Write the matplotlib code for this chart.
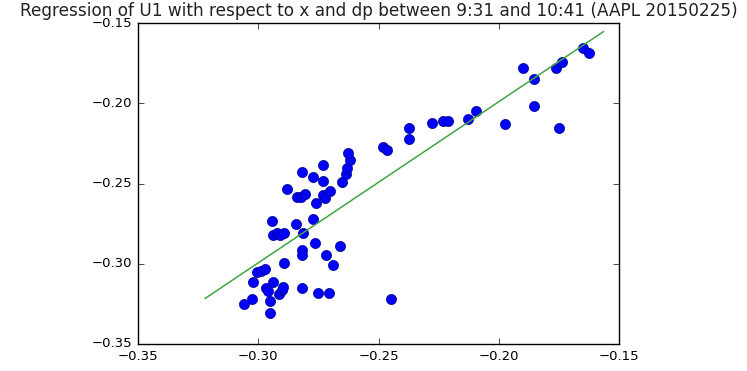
import matplotlib
matplotlib.use("Agg")
import matplotlib.pyplot as plt

x_vals = [-0.3059, -0.3027, -0.3023, -0.3006, -0.2989, -0.2973, -0.2968, -0.2958, -0.2950, -0.2950,
          -0.2944, -0.2937, -0.2937, -0.2923, -0.2910, -0.2893, -0.2912, -0.2903, -0.2896, -0.2892,
          -0.2879, -0.2843, -0.2840, -0.2824, -0.2806, -0.2819, -0.2816, -0.2816, -0.2819, -0.2813,
          -0.2774, -0.2771, -0.2765, -0.2758, -0.2752, -0.2730, -0.2729, -0.2729, -0.2722, -0.2702,
          -0.2718, -0.2707, -0.2688, -0.2659, -0.2652, -0.2635, -0.2630, -0.2618, -0.2628, -0.2480,
          -0.2466, -0.2450, -0.2372, -0.2372, -0.2276, -0.2231, -0.2210, -0.2127, -0.2096, -0.1973,
          -0.1900, -0.1853, -0.1853, -0.1763, -0.1738, -0.1749, -0.1651, -0.1625]
y_vals = [-0.3251, -0.3222, -0.3114, -0.3051, -0.3043, -0.3035, -0.3153, -0.3172, -0.3232, -0.3304,
          -0.2736, -0.2818, -0.3112, -0.2810, -0.2821, -0.2808, -0.3187, -0.3164, -0.3145, -0.2997,
          -0.2531, -0.2753, -0.2582, -0.2582, -0.2567, -0.2426, -0.2916, -0.2945, -0.3153, -0.2810,
          -0.2461, -0.2721, -0.2872, -0.2621, -0.3179, -0.2384, -0.2481, -0.2571, -0.2592, -0.2546,
          -0.2945, -0.3179, -0.3008, -0.2891, -0.2490, -0.2442, -0.2401, -0.2353, -0.2307, -0.2270,
          -0.2290, -0.3222, -0.2155, -0.2224, -0.2120, -0.2108, -0.2108, -0.2099, -0.2047, -0.2128,
          -0.1777, -0.1849, -0.2014, -0.1781, -0.1740, -0.2155, -0.1652, -0.1687]

fit_x = [-0.3221, -0.1565]
fit_y = [-0.3216, -0.1552]

title = "Regression of U1 with respect to x and dp between 9:31 and 10:41 (AAPL 20150225)"
x_ticks = [-0.35, -0.30, -0.25, -0.20, -0.15]
y_ticks = [-0.35, -0.30, -0.25, -0.20, -0.15]

plt.style.use("classic")
plt.rcParams["font.family"] = ["DejaVu Sans"]

fig = plt.figure(figsize=(7.47, 3.71), dpi=100)
fig.patch.set_facecolor("white")
ax = fig.add_axes([0.1847, 0.0728, 0.6440, 0.8644])

ax.plot(x_vals, y_vals, "o", color=(0, 0, 1), markersize=7.3,
        markeredgecolor=(0, 0, 0.5), markeredgewidth=0.5, linestyle="none")
ax.plot(fit_x, fit_y, "-", color=(0.25, 0.65, 0.25), linewidth=1.1)

ax.set_xlim(-0.35, -0.15)
ax.set_ylim(-0.35, -0.15)
ax.set_xticks(x_ticks)
ax.set_yticks(y_ticks)
ax.set_xticklabels([f"{v:.2f}".replace("-", "\u2212") for v in x_ticks])
ax.set_yticklabels([f"{v:.2f}".replace("-", "\u2212") for v in y_ticks])
ax.tick_params(labelsize=9.5, direction="in", length=4, top=True, right=True)
ax.set_title(title, fontsize=12.2, color="#222222", pad=5)

fig.savefig("out.png", dpi=100, facecolor="white")
